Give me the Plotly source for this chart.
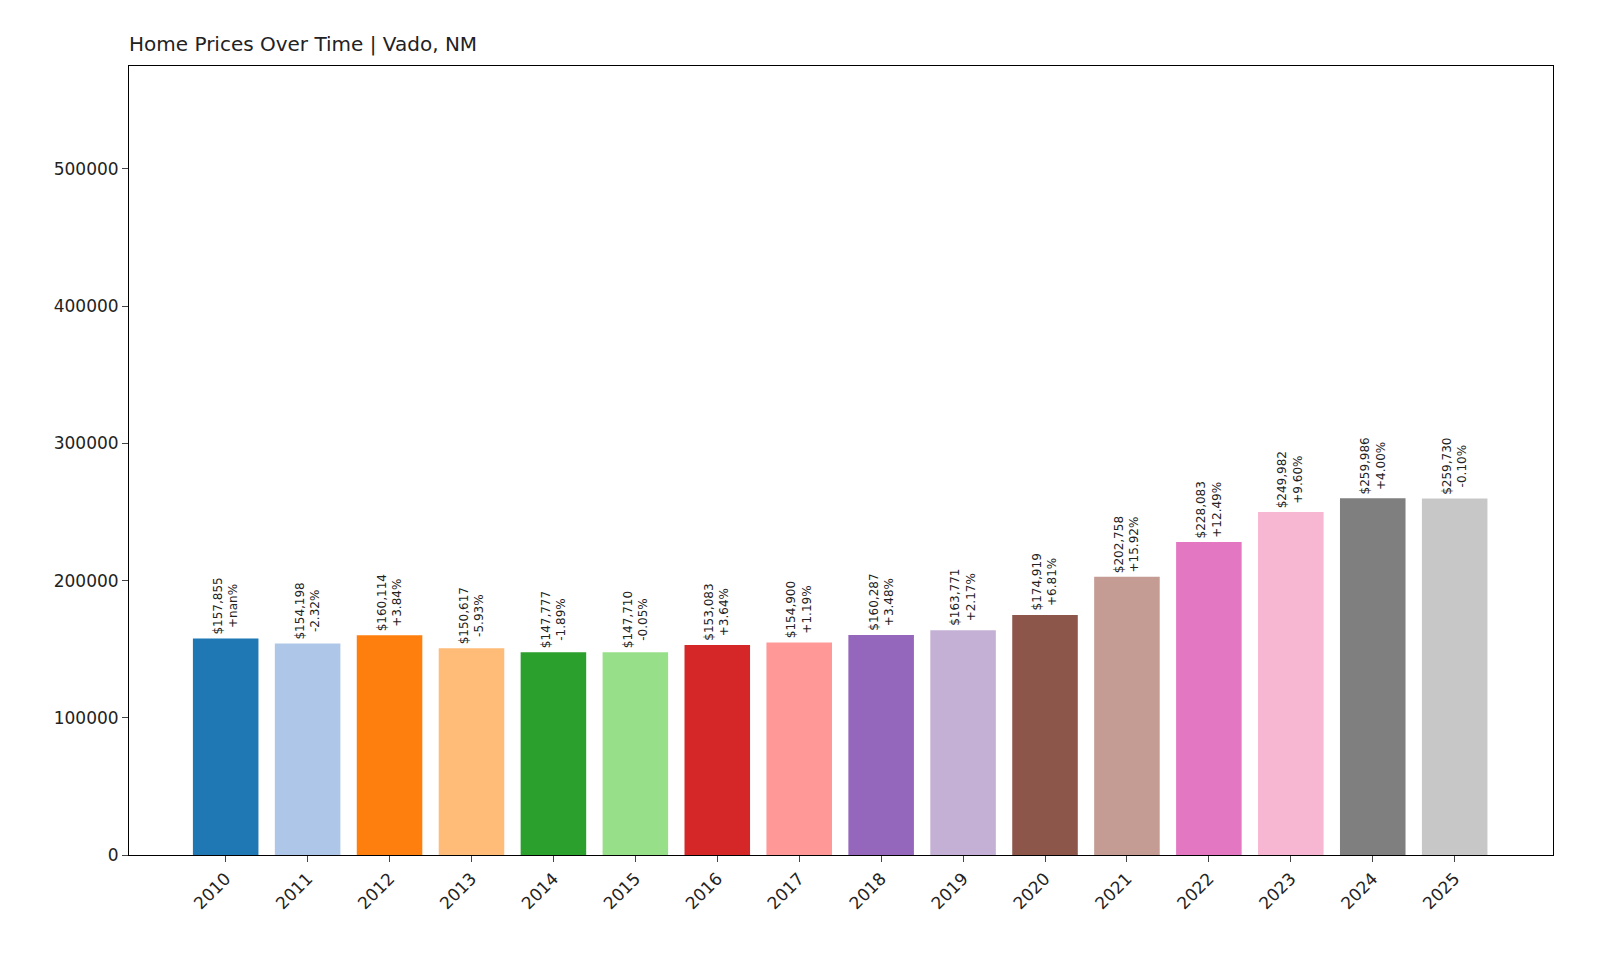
import plotly.graph_objects as go

years = [str(y) for y in range(2010, 2026)]
prices = [157855, 154198, 160114, 150617, 147777, 147710, 153083, 154900, 160287, 163771, 174919, 202758, 228083, 249982, 259986, 259730]
changes = ["+nan%", "-2.32%", "+3.84%", "-5.93%", "-1.89%", "-0.05%", "+3.64%", "+1.19%", "+3.48%", "+2.17%", "+6.81%", "+15.92%", "+12.49%", "+9.60%", "+4.00%", "-0.10%"]
colors = ["#1f77b4", "#aec7e8", "#ff7f0e", "#ffbb78", "#2ca02c", "#98df8a", "#d62728", "#ff9896",
          "#9467bd", "#c5b0d5", "#8c564b", "#c49c94", "#e377c2", "#f7b6d2", "#7f7f7f", "#c7c7c7"]

xs = list(range(len(years)))
fig = go.Figure(go.Bar(x=xs, y=prices, marker_color=colors, width=0.8, marker_line_width=0))
for i, (p, c) in enumerate(zip(prices, changes)):
    fig.add_annotation(x=i, y=p, text=f"${p:,}<br>{c}", textangle=-90, showarrow=False,
                       xanchor="center", yanchor="bottom", yshift=2,
                       font=dict(size=12, color="#222", family="DejaVu Sans"))
fig.update_layout(
    width=1600, height=960, plot_bgcolor="white", paper_bgcolor="white",
    margin=dict(l=121, r=55, t=58, b=113), showlegend=False,
    font=dict(family="DejaVu Sans", size=17, color="#222"),
    title=dict(text="Home Prices Over Time | Vado, NM", x=121/1600, xanchor="left",
               y=1-36/960, yanchor="middle", font=dict(size=20)),
)
fig.update_xaxes(range=[-1.18, 16.2], tickvals=xs, ticktext=years, tickangle=-45,
                 showline=True, linecolor="black", mirror=True, ticks="outside", ticklen=6,
                 showgrid=False, tickfont=dict(size=17))
fig.update_yaxes(range=[0, 575000], tickvals=[0, 100000, 200000, 300000, 400000, 500000],
                 tickformat="d", showline=True, linecolor="black", mirror=True, ticks="outside",
                 ticklen=6, showgrid=False, zeroline=False, tickfont=dict(size=17))
fig.write_html("out.html")
